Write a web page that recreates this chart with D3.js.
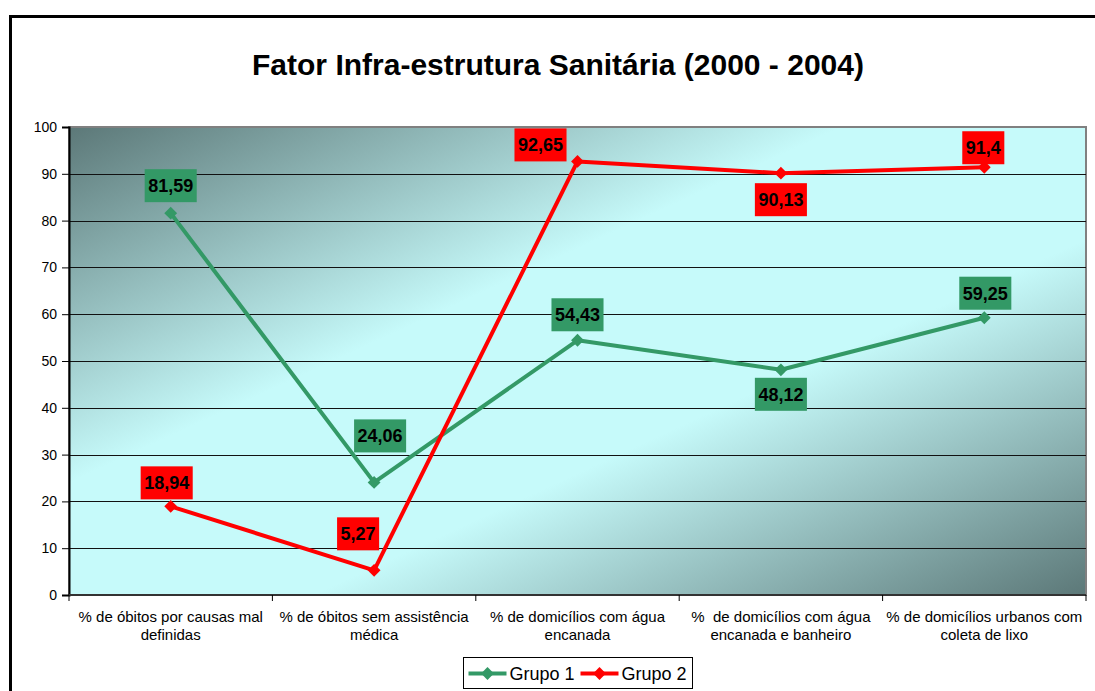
<!DOCTYPE html>
<html lang="pt">
<head>
<meta charset="utf-8">
<title>Fator Infra-estrutura Sanitária</title>
<script src="https://d3js.org/d3.v7.min.js"></script>
<style>
  body { margin: 0; background: #fff; }
  text { font-family: Arial, "Liberation Sans", sans-serif; }
</style>
</head>
<body>
<script>
// data
var categories = [
  ["% de óbitos por causas mal", "definidas"],
  ["% de óbitos sem assistência", "médica"],
  ["% de domicílios com água", "encanada"],
  ["%  de domicílios com água", "encanada e banheiro"],
  ["% de domicílios urbanos com", "coleta de lixo"]
];
var grupo1 = [81.59, 24.06, 54.43, 48.12, 59.25];
var grupo2 = [18.94, 5.27, 92.65, 90.13, 91.4];
var yTicks = [0, 10, 20, 30, 40, 50, 60, 70, 80, 90, 100];

// label placement (pixel offsets of the label box from its point, as in the original)
var grupo1LabelDx = [0, 6, 0, 0, 1];
var grupo1LabelDy = [-44, -63, -42, 8, -41];
var grupo2LabelDx = [-4, -16, -37, 0, -1];
var grupo2LabelDy = [-40, -53, -33, 10, -36];

var width = 1095, height = 691;
var plotL = 69, plotR = 1086, plotT = 127, plotB = 595;

var svg = d3.select("body").append("svg")
  .attr("width", width).attr("height", height);

// outer frame (only top & left are visible)
svg.append("path")
  .attr("d", "M10.5,700 L10.5,16.5 L1100,16.5")
  .attr("fill", "none").attr("stroke", "#000").attr("stroke-width", 3);

svg.append("text")
  .attr("x", 558).attr("y", 75)
  .attr("text-anchor", "middle")
  .attr("font-weight", "bold").attr("font-size", 30)
  .text("Fator Infra-estrutura Sanitária (2000 - 2004)");

var x = d3.scaleBand().domain(d3.range(categories.length)).range([plotL, plotR]);
var y = d3.scaleLinear().domain([0, 100]).range([plotB, plotT]);

// plot background gradient
var defs = svg.append("defs");
var grad = defs.append("linearGradient").attr("id", "bg")
  .attr("x1", 0).attr("y1", 0).attr("x2", 1).attr("y2", 1);
grad.append("stop").attr("offset", 0).attr("stop-color", "#5c7878");
grad.append("stop").attr("offset", 0.38).attr("stop-color", "#c6fafa");
grad.append("stop").attr("offset", 0.62).attr("stop-color", "#c6fafa");
grad.append("stop").attr("offset", 1).attr("stop-color", "#5c7878");

svg.append("rect")
  .attr("x", plotL).attr("y", plotT)
  .attr("width", plotR - plotL).attr("height", plotB - plotT)
  .attr("fill", "url(#bg)")
  .attr("stroke", "#808080").attr("stroke-width", 2);

// gridlines
svg.append("g").selectAll("line")
  .data(yTicks.slice(1, -1)).join("line")
  .attr("x1", plotL).attr("x2", plotR)
  .attr("y1", function(d) { return Math.round(y(d)) + 0.5; })
  .attr("y2", function(d) { return Math.round(y(d)) + 0.5; })
  .attr("stroke", "#111").attr("stroke-width", 1);

// y axis
var yAxis = svg.append("g")
  .attr("transform", "translate(" + plotL + ",0)")
  .call(d3.axisLeft(y).tickValues(yTicks).tickSize(7).tickPadding(5));
yAxis.select(".domain").attr("stroke", "#000").attr("stroke-width", 2);
yAxis.selectAll(".tick line").attr("stroke", "#000");
yAxis.selectAll("text").attr("font-size", 14).attr("fill", "#000")
  .style("font-family", "Arial, 'Liberation Sans', sans-serif");

// x axis
var xAxis = svg.append("g")
  .attr("transform", "translate(0," + plotB + ")");
xAxis.append("line")
  .attr("x1", plotL).attr("x2", plotR).attr("y1", 0).attr("y2", 0)
  .attr("stroke", "#333").attr("stroke-width", 2);
xAxis.selectAll(".tk")
  .data(d3.range(categories.length + 1)).join("line")
  .attr("x1", function(i) { return i < categories.length ? x(i) : plotR; })
  .attr("x2", function(i) { return i < categories.length ? x(i) : plotR; })
  .attr("y1", 0).attr("y2", 6)
  .attr("stroke", "#000");
var xl = xAxis.selectAll(".lbl")
  .data(categories).join("text")
  .attr("text-anchor", "middle").attr("font-size", 15).attr("fill", "#000")
  .style("white-space", "pre")
  .attr("y", 27);
xl.each(function(d, i) {
  d3.select(this).selectAll("tspan").data(d).join("tspan")
    .attr("x", x(i) + x.bandwidth() / 2)
    .attr("dy", function(t, j) { return j ? 18 : 0; })
    .text(function(t) { return t; });
});

// series
var series = [
  { name: "Grupo 1", values: grupo1, dx: grupo1LabelDx, dy: grupo1LabelDy, color: "#339966" },
  { name: "Grupo 2", values: grupo2, dx: grupo2LabelDx, dy: grupo2LabelDy, color: "#ff0000" }
];
var cx = function(i) { return x(i) + x.bandwidth() / 2; };
var line = d3.line()
  .x(function(d, i) { return cx(i); })
  .y(function(d) { return y(d); });
var diamond = d3.symbol().type(d3.symbolDiamond2).size(105);

series.forEach(function(s) {
  var g = svg.append("g");
  g.append("path").datum(s.values)
    .attr("d", line).attr("fill", "none")
    .attr("stroke", s.color).attr("stroke-width", 4)
    .attr("stroke-linejoin", "round");
  g.selectAll(".m").data(s.values).join("path")
    .attr("transform", function(d, i) { return "translate(" + cx(i) + "," + y(d) + ")"; })
    .attr("d", diamond).attr("fill", s.color);
});

// data labels
series.forEach(function(s) {
  var g = svg.append("g");
  s.values.forEach(function(v, i) {
    var txt = String(v).replace(".", ",");
    var lg = g.append("g");
    var t = lg.append("text")
      .attr("text-anchor", "middle").attr("font-weight", "bold")
      .attr("font-size", 18).attr("fill", "#000")
      .text(txt);
    var w = t.node().getComputedTextLength() + 7, h = 33;
    var bx = cx(i) + s.dx[i], by = y(v) + s.dy[i];
    lg.insert("rect", "text")
      .attr("x", bx - w / 2).attr("y", by)
      .attr("width", w).attr("height", h)
      .attr("fill", s.color);
    t.attr("x", bx).attr("y", by + 23);
  });
});

// legend
var legend = svg.append("g").attr("transform", "translate(463.5,657.5)");
legend.append("rect").attr("width", 229).attr("height", 31)
  .attr("fill", "#fff").attr("stroke", "#000");
var li = legend.selectAll(".li").data(series).join("g")
  .attr("transform", function(d, i) { return "translate(" + (5 + i * 112) + ",0)"; });
li.append("line").attr("x1", 0).attr("x2", 38).attr("y1", 16).attr("y2", 16)
  .attr("stroke", function(d) { return d.color; }).attr("stroke-width", 4);
li.append("path").attr("transform", "translate(19,16)")
  .attr("d", diamond).attr("fill", function(d) { return d.color; });
li.append("text").attr("x", 41).attr("y", 22)
  .attr("font-size", 18).attr("fill", "#000")
  .text(function(d) { return d.name; });
</script>
</body>
</html>
